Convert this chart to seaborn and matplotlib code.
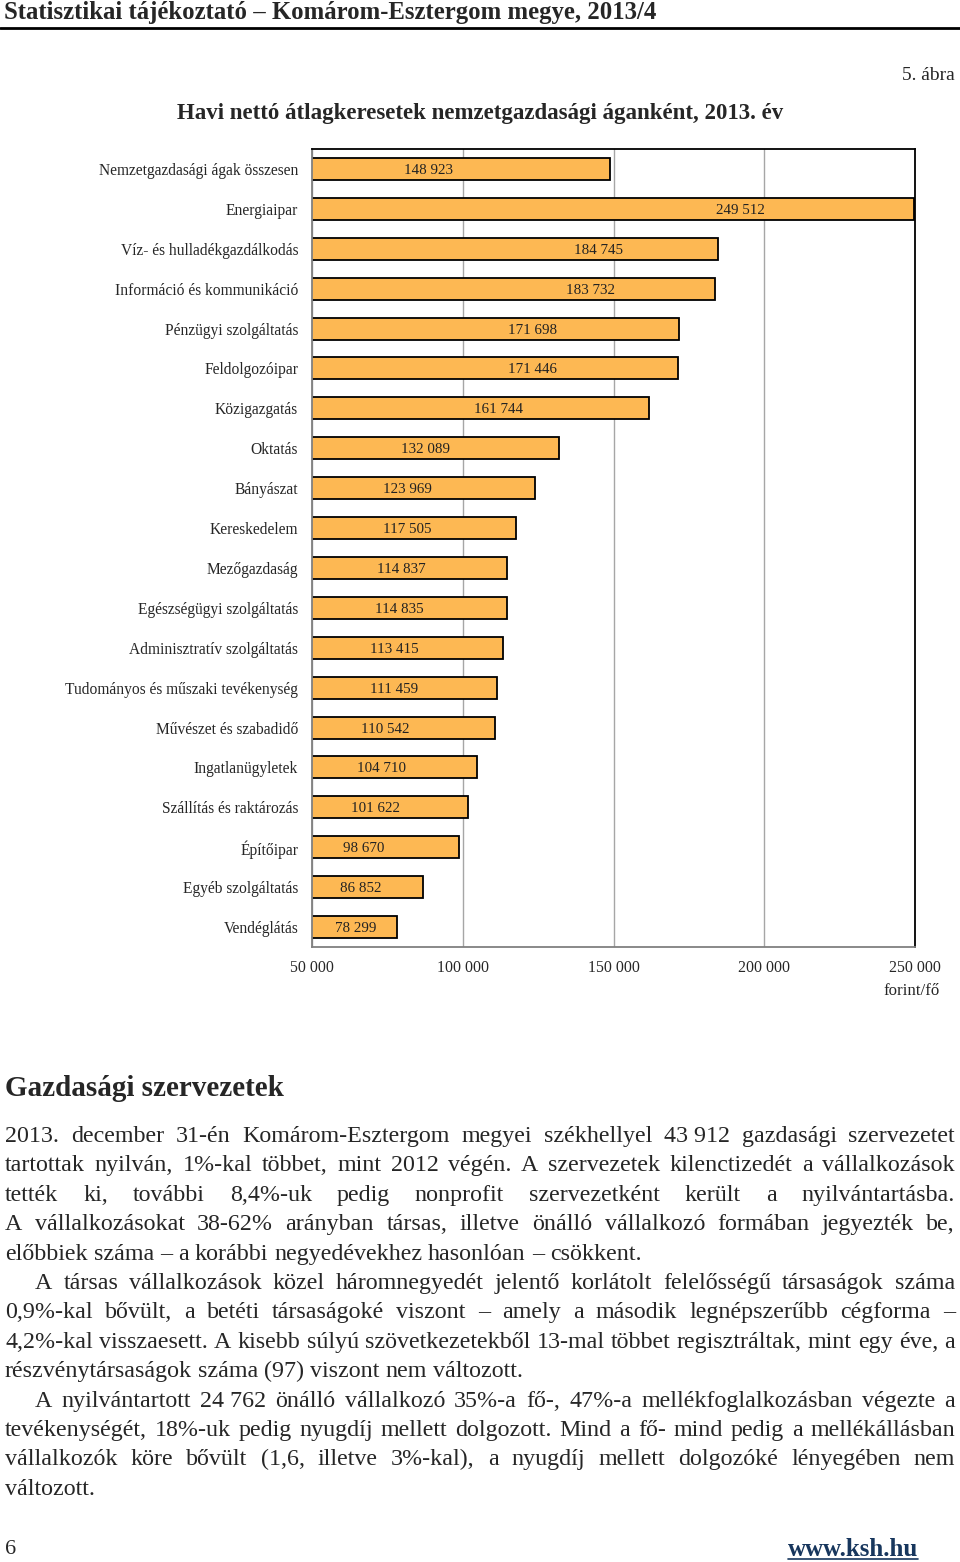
import matplotlib
matplotlib.use("Agg")
import matplotlib.pyplot as plt
import seaborn as sns
import pandas as pd
from matplotlib.lines import Line2D

# ── data ──────────────────────────────────────────────────────────────────────
categories = [
    "Nemzetgazdasági ágak összesen", "Energiaipar", "Víz- és hulladékgazdálkodás",
    "Információ és kommunikáció", "Pénzügyi szolgáltatás", "Feldolgozóipar",
    "Közigazgatás", "Oktatás", "Bányászat", "Kereskedelem", "Mezőgazdaság",
    "Egészségügyi szolgáltatás", "Adminisztratív szolgáltatás",
    "Tudományos és műszaki tevékenység", "Művészet és szabadidő",
    "Ingatlanügyletek", "Szállítás és raktározás", "Építőipar",
    "Egyéb szolgáltatás", "Vendéglátás",
]
earnings = [148923, 249512, 184745, 183732, 171698, 171446, 161744, 132089,
            123969, 117505, 114837, 114835, 113415, 111459, 110542, 104710,
            101622, 98670, 86852, 78299]
x_ticks = [50000, 100000, 150000, 200000, 250000]

# where the value labels sit inside the bars (data units, as placed in the source)
label_x = [88800, 192000, 144900, 142500, 123000, 123300, 112000, 87800, 81800,
           81500, 79500, 78900, 77200, 77200, 74200, 73200, 70900, 67200,
           66300, 64600]

paragraph = [
    ("2013. december 31-én Komárom-Esztergom megyei székhellyel 43\u00a0912 gazdasági szervezetet", True, 0),
    ("tartottak nyilván, 1%-kal többet, mint 2012 végén. A szervezetek kilenctizedét a vállalkozások", True, 0),
    ("tették ki, további 8,4%-uk pedig nonprofit szervezetként került a nyilvántartásba.", True, 0),
    ("A vállalkozásokat 38-62% arányban társas, illetve önálló vállalkozó formában jegyezték be,", True, 0),
    ("előbbiek száma – a korábbi negyedévekhez hasonlóan – csökkent.", False, 0),
    ("A társas vállalkozások közel háromnegyedét jelentő korlátolt felelősségű társaságok száma", True, 30),
    ("0,9%-kal bővült, a betéti társaságoké viszont – amely a második legnépszerűbb cégforma –", True, 0),
    ("4,2%-kal visszaesett. A kisebb súlyú szövetkezetekből 13-mal többet regisztráltak, mint egy éve, a", True, 0),
    ("részvénytársaságok száma (97) viszont nem változott.", False, 0),
    ("A nyilvántartott 24\u00a0762 önálló vállalkozó 35%-a fő-, 47%-a mellékfoglalkozásban végezte a", True, 30),
    ("tevékenységét, 18%-uk pedig nyugdíj mellett dolgozott. Mind a fő- mind pedig a mellékállásban", True, 0),
    ("vállalkozók köre bővült (1,6, illetve 3%-kal), a nyugdíj mellett dolgozóké lényegében nem", True, 0),
    ("változott.", False, 0),
]

# ── figure ────────────────────────────────────────────────────────────────────
W, H = 960, 1562
sns.set_theme(style="white")
SERIF = ["Liberation Serif", "DejaVu Serif"]
plt.rcParams["font.family"] = SERIF
BAR = "#FDB853"

fig = plt.figure(figsize=(W / 100, H / 100), dpi=100)
fig.patch.set_facecolor("white")


def fx(px):
    return px / W


def fy(py):
    return 1 - py / H


# page header
fig.text(fx(4), fy(12), "Statisztikai tájékoztató – Komárom-Esztergom megye, 2013/4",
         fontsize=17.8, fontweight="bold", va="center", ha="left")
fig.add_artist(Line2D([0, 1], [fy(28), fy(28)], color="black", lw=2))
fig.text(fx(955), fy(75), "5. ábra", fontsize=14, ha="right", va="center")
fig.text(fx(480), fy(113), "Havi nettó átlagkeresetek nemzetgazdasági áganként, 2013. év",
         fontsize=16.5, fontweight="bold", ha="center", va="center")

# chart
ax = fig.add_axes([fx(312), fy(947), (915 - 312) / W, (947 - 149) / H])
df = pd.DataFrame({"ag": categories, "kereset": earnings})
sns.barplot(data=df, x="kereset", y="ag", orient="h", color=BAR, saturation=1,
            edgecolor="black", linewidth=1.3, width=0.55, errorbar=None, ax=ax)

ax.set_xlim(x_ticks[0], x_ticks[-1])
ax.set_ylim(len(categories) - 0.5, -0.5)
ax.set_xticks(x_ticks)
ax.set_xticklabels([f"{v:,}".replace(",", " ") for v in x_ticks], fontsize=11.4)
ax.set_yticks(range(len(categories)))
ax.set_yticklabels(categories, fontsize=11.2)
ax.set_yticks([i - 0.5 for i in range(len(categories) + 1)], minor=True)
ax.tick_params(axis="y", which="major", length=0, pad=10)
ax.tick_params(axis="y", which="minor", length=4, color="#808080", direction="out")
ax.tick_params(axis="x", which="major", length=4, color="#808080", direction="out", pad=5)
ax.set_xlabel("")
ax.set_ylabel("")
ax.grid(axis="x", color="#A6A6A6", lw=1)
ax.set_axisbelow(True)
for side in ["top", "right"]:
    ax.spines[side].set_color("black")
    ax.spines[side].set_linewidth(1.3)
for side in ["left", "bottom"]:
    ax.spines[side].set_color("#808080")
    ax.spines[side].set_linewidth(1.3)

for i, (v, lx) in enumerate(zip(earnings, label_x)):
    ax.text(lx, i, f"{v:,}".replace(",", " "), ha="center", va="center_baseline",
            fontsize=10.8, color="#222222")

fig.text(fx(940), fy(991), "forint/fő", fontsize=12.2, ha="right", va="center")

# section heading
fig.text(fx(5), fy(1088), "Gazdasági szervezetek", fontsize=21, fontweight="bold",
         ha="left", va="center")

# justified paragraph
renderer = fig.canvas.get_renderer()
FS = 17.3
X0, X1 = 5, 955


def text_width(s, fs):
    t = fig.text(0, 0, s, fontsize=fs)
    w = t.get_window_extent(renderer).width
    t.remove()
    return w


y = 1134
for line, just, indent in paragraph:
    words = line.split(" ")
    fs = FS
    start = X0 + indent
    space_w = text_width("x x", fs) - text_width("xx", fs)
    # shrink a line slightly if it cannot fit with normal word spacing
    while text_width(line, fs) > X1 - start and fs > 12:
        fs -= 0.1
        space_w = text_width("x x", fs) - text_width("xx", fs)
    arts = [fig.text(0, 0, w, fontsize=fs, ha="left", va="center_baseline")
            for w in words]
    widths = [a.get_window_extent(renderer).width for a in arts]
    if just and len(words) > 1:
        gap = (X1 - start - sum(widths)) / (len(words) - 1)
    else:
        gap = space_w
    x = start
    for a, w in zip(arts, widths):
        a.set_position((fx(x), fy(y)))
        x += w + gap
    y += 29.4

# footer
fig.text(fx(5), fy(1549), "6", fontsize=16, ha="left", va="center")
link = fig.text(fx(918), fy(1549), "www.ksh.hu", fontsize=18, fontweight="bold",
                color="#17365D", ha="right", va="center")
lw_px = link.get_window_extent(renderer).width
fig.add_artist(Line2D([fx(918 - lw_px), fx(918)], [fy(1559), fy(1559)],
                      color="#17365D", lw=1.2))

fig.savefig("out.png", dpi=100)
